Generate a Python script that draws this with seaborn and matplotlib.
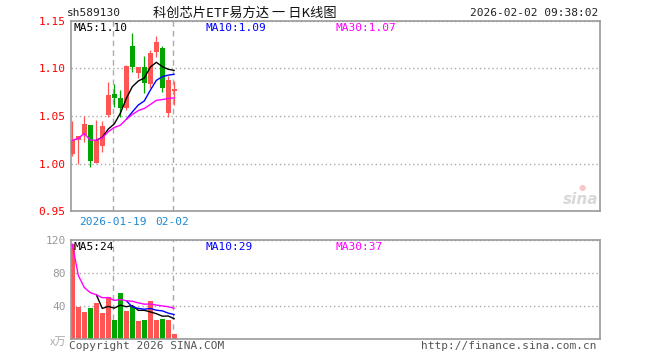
import numpy as np
import pandas as pd
import matplotlib
matplotlib.use("Agg")
import matplotlib.pyplot as plt
import seaborn as sns

# ---------------- data ----------------
dates = ["2026-01-08", "2026-01-09", "2026-01-12", "2026-01-13", "2026-01-14", "2026-01-15",
         "2026-01-16", "2026-01-19", "2026-01-20", "2026-01-21", "2026-01-22", "2026-01-23",
         "2026-01-26", "2026-01-27", "2026-01-28", "2026-01-29", "2026-01-30", "2026-02-02"]
open_ = [1.0103, 1.0245, 1.0302, 1.0407, 1.0012, 1.0180, 1.0512, 1.0732, 1.0690, 1.0582,
         1.1235, 1.0949, 1.1018, 1.0833, 1.1175, 1.1210, 1.0529, 1.0766]
high = [1.0452, 1.0295, 1.0498, 1.0410, 1.0459, 1.0452, 1.0855, 1.0833, 1.0774, 1.1030,
        1.1368, 1.1018, 1.1130, 1.1193, 1.1343, 1.1235, 1.0924, 1.0868]
low = [1.0082, 0.9995, 1.0232, 0.9970, 1.0010, 1.0127, 1.0487, 1.0599, 1.0487, 1.0564,
       1.0965, 1.0896, 1.0745, 1.0791, 1.1123, 1.0756, 1.0494, 1.0616]
close = [1.0243, 1.0290, 1.0417, 1.0033, 1.0249, 1.0396, 1.0721, 1.0687, 1.0588, 1.1025,
         1.1018, 1.1018, 1.0844, 1.1158, 1.1280, 1.0790, 1.0878, 1.0787]
volume = [115.0, 39.4, 33.4, 37.5, 44.2, 32.1, 51.5, 23.3, 55.6, 34.2,
          39.4, 22.5, 23.3, 46.3, 23.3, 24.5, 23.3, 6.4]
price_ticks = [0.95, 1.00, 1.05, 1.10, 1.15]
vol_ticks = [40, 80, 120]
date_marks = ["2026-01-19", "2026-02-02"]
date_labels = ["2026-01-19", "02-02"]

# ---------------- style ----------------
sns.set_theme(style="white")
plt.rcParams["font.family"] = ["DejaVu Sans Mono", "Noto Sans CJK SC"]
RED = "#FF5555"
GREEN = "#00A600"
FRAME = "#999999"
GRID = "#AAAAAA"

df = pd.DataFrame({"date": dates, "open": open_, "high": high, "low": low,
                   "close": close, "vol": volume})
df["i"] = np.arange(len(df))
df["up"] = df["close"] >= df["open"]
df["ma5"] = df["close"].rolling(5).mean()
df["ma10"] = df["close"].rolling(10).mean()
df["ma30"] = df["close"].expanding().mean()
df["vma5"] = df["vol"].rolling(5).mean()
df["vma10"] = df["vol"].rolling(10).mean()
df["vma30"] = df["vol"].expanding().mean()

W, H = 660, 360
fig = plt.figure(figsize=(W / 100, H / 100), dpi=100)
fig.patch.set_facecolor("white")


def axrect(x0, y0, x1, y1):
    return [x0 / W, 1 - y1 / H, (x1 - x0) / W, (y1 - y0) / H]


def fx(px):
    return px / W


def fy(py):
    return 1 - py / H


ax = fig.add_axes(axrect(70.5, 20.7, 600, 211.3))
axv = fig.add_axes(axrect(70.5, 240, 600, 339.3))

xlim = (-0.3, 87.95)
mark_x = [df.index[df["date"] == d][0] - 0.28 for d in date_marks]

for a in (ax, axv):
    a.set_facecolor("white")
    a.set_xlim(*xlim)
    for s in a.spines.values():
        s.set_color(FRAME)
        s.set_linewidth(1.2)
    a.set_xticks(mark_x)
    a.grid(axis="x", color=GRID, linestyle=(0, (4, 3)), linewidth=1.0)
    a.grid(axis="y", color=GRID, linestyle=(0, (1, 2)), linewidth=1.0)
    a.tick_params(length=0)
    a.set_axisbelow(True)

# ---------------- candles ----------------
colors = np.where(df["up"], RED, GREEN)
ax.vlines(df["i"], df["low"], df["high"], colors=colors, linewidth=0.9, zorder=2)
body_bottom = np.minimum(df["open"], df["close"])
body_h = np.maximum(np.abs(df["close"] - df["open"]), 0.0006)
ax.bar(df["i"], body_h, bottom=body_bottom, width=0.78, color=colors, linewidth=0, zorder=3)

sns.lineplot(data=df, x="i", y="ma5", ax=ax, color="black", linewidth=1.0, zorder=4)
sns.lineplot(data=df, x="i", y="ma10", ax=ax, color="#0000FF", linewidth=1.0, zorder=4)
sns.lineplot(data=df, x="i", y="ma30", ax=ax, color="#FF00FF", linewidth=1.0, zorder=4)
ax.set_ylim(0.95, 1.15)
ax.set_yticks(price_ticks)
ax.set_yticklabels([f"{v:.2f}" for v in price_ticks], color="#FF0000", fontsize=8)
ax.set_xticklabels(date_labels, color="#1E88D4", fontsize=8)
ax.tick_params(axis="x", pad=4)
ax.tick_params(axis="y", pad=3.5)
ax.set_xlabel("")
ax.set_ylabel("")

# ---------------- volume ----------------
axv.bar(df["i"], df["vol"], width=0.8, color=colors, linewidth=0, zorder=2)
sns.lineplot(data=df, x="i", y="vma5", ax=axv, color="black", linewidth=1.0, zorder=4)
sns.lineplot(data=df, x="i", y="vma10", ax=axv, color="#0000FF", linewidth=1.0, zorder=4)
sns.lineplot(data=df, x="i", y="vma30", ax=axv, color="#FF00FF", linewidth=1.0, zorder=4)
axv.set_ylim(0, 120)
axv.set_yticks(vol_ticks)
axv.set_yticklabels([str(v) for v in vol_ticks], color="#999999", fontsize=8)
axv.set_xticklabels([])
axv.tick_params(axis="y", pad=3.5)
axv.set_xlabel("")
axv.set_ylabel("")

# ---------------- labels ----------------
last = df.iloc[-1]
fs = 8
ax.text(fx(73), fy(28), f"MA5:{last['ma5']:.2f}", transform=fig.transFigure,
        color="black", fontsize=fs, va="center", ha="left")
ax.text(fx(205), fy(28), f"MA10:{last['ma10']:.2f}", transform=fig.transFigure,
        color="#0000FF", fontsize=fs, va="center", ha="left")
ax.text(fx(335), fy(28), f"MA30:{last['ma30']:.2f}", transform=fig.transFigure,
        color="#FF00FF", fontsize=fs, va="center", ha="left")

axv.text(fx(73), fy(247.5), f"MA5:{int(last['vma5'])}", transform=fig.transFigure,
         color="black", fontsize=fs, va="center", ha="left", zorder=6)
axv.text(fx(205), fy(247.5), f"MA10:{int(last['vma10'])}", transform=fig.transFigure,
         color="#0000FF", fontsize=fs, va="center", ha="left")
axv.text(fx(335), fy(247.5), f"MA30:{int(last['vma30'])}", transform=fig.transFigure,
         color="#FF00FF", fontsize=fs, va="center", ha="left")

fig.text(fx(67), fy(13), "sh589130", color="#222222", fontsize=8, va="center", ha="left")
fig.text(fx(245), fy(13), "科创芯片ETF易方达 一 日K线图", color="#111111", fontsize=9.5,
         va="center", ha="center", family=["Noto Sans CJK SC", "DejaVu Sans"])
fig.text(fx(598), fy(13), "2026-02-02 09:38:02", color="#222222", fontsize=8,
         va="center", ha="right")

fig.text(fx(66), fy(342), "x万", color="#AAAAAA", fontsize=8, va="center", ha="right",
         family=["Noto Sans CJK SC", "DejaVu Sans"])
fig.text(fx(69), fy(346), "Copyright 2026 SINA.COM", color="#555555", fontsize=8,
         va="center", ha="left")
fig.text(fx(597), fy(346), "http://finance.sina.com.cn", color="#555555", fontsize=8,
         va="center", ha="right")

# sina watermark
fig.text(fx(598), fy(199), "sina", color="#D8D8D8", fontsize=11, fontstyle="italic",
         fontweight="bold", va="center", ha="right", family="DejaVu Sans")
fig.text(fx(582), fy(187), "●", color="#F6C8C8", fontsize=6, va="center", ha="center",
         family="DejaVu Sans")

fig.savefig("out.png", dpi=100, facecolor="white")
